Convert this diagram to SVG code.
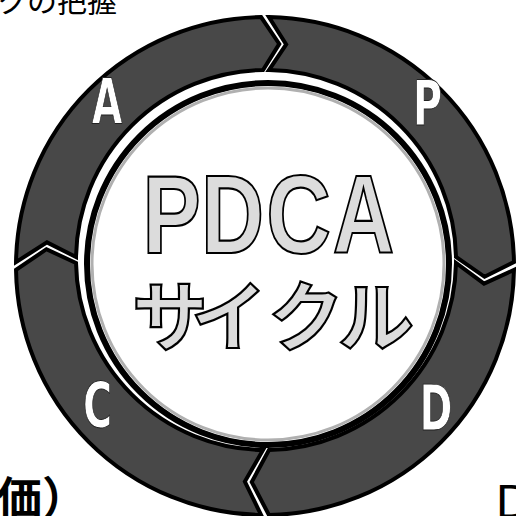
<svg xmlns="http://www.w3.org/2000/svg" width="516" height="516" viewBox="0 0 516 516">
<style>
.seg{fill:#484848;stroke:#000;stroke-width:4;stroke-linejoin:miter}
.lbl{font-family:"DejaVu Sans Condensed","DejaVu Sans",sans-serif;font-weight:bold;font-size:63px;fill:#fff;stroke:#222;stroke-width:0.8;text-anchor:middle}
.big{font-family:"Liberation Sans",Arial,sans-serif;font-weight:bold;font-size:112px;fill:#dcdcdc;stroke:#000;stroke-width:2.2;text-anchor:middle}
.kana{font-family:"Noto Sans CJK JP",sans-serif;font-weight:bold;font-size:76px;fill:#dcdcdc;stroke:#000;stroke-width:2.2;text-anchor:middle}
.side{font-family:"Noto Sans CJK JP",sans-serif;fill:#000}
</style>
<rect width="516" height="516" fill="#fff"/>
<g id="connectors">
<path id="seg-P" class="seg" d="M268.91,17.03 A249,249 0 0 1 513.97,262.09 L484.57,276.78 L455.98,257.02 A190,190 0 0 0 268.98,70.02 L286.16,44.48 Z"/>
<path id="seg-D" class="seg" d="M513.97,269.91 A249,249 0 0 1 268.91,514.97 L251.72,482.07 L268.98,449.98 A190,190 0 0 0 455.98,262.98 L484.03,283.66 Z"/>
<path id="seg-C" class="seg" d="M261.09,514.97 A249,249 0 0 1 16.03,269.91 L46.43,249.22 L76.02,262.98 A190,190 0 0 0 263.02,449.98 L244.85,481.53 Z"/>
<path id="seg-A" class="seg" d="M16.03,262.09 A249,249 0 0 1 261.09,17.03 L279.28,43.93 L263.02,70.02 A190,190 0 0 0 76.02,257.02 L46.98,242.35 Z"/>
</g>
<g id="node-P"><text class="lbl" transform="translate(427.5,125) scale(0.7,1)">P</text></g>
<g id="node-D"><text class="lbl" transform="translate(436,430) scale(0.7,1)">D</text></g>
<g id="node-C"><text class="lbl" transform="translate(97.5,427) scale(0.7,1)">C</text></g>
<g id="node-A"><text class="lbl" transform="translate(107,123) scale(0.7,1)">A</text></g>
<g id="node-center">
<circle cx="268" cy="264" r="181" fill="#fff" stroke="#000" stroke-width="6"/>
<circle cx="268" cy="264" r="176" fill="none" stroke="#b0b0b0" stroke-width="3"/>
<text class="big" transform="translate(171.5,253) scale(0.78,1)">P</text>
<text class="big" transform="translate(232.5,253) scale(0.78,1)">D</text>
<text class="big" transform="translate(298.5,253) scale(0.8,1)">C</text>
<text class="big" transform="translate(363.5,253) scale(0.76,1)">A</text>
<text class="kana" x="170" y="345">サ</text>
<text class="kana" x="229" y="345">イ</text>
<text class="kana" x="306" y="345">ク</text>
<text class="kana" x="376" y="345">ル</text>
</g>
<g id="node-captions">
<text class="side" x="-3" y="12" font-size="30">クの把握</text>
<text class="side" x="-3" y="515" font-size="45" font-weight="bold">価）</text>
<text x="496" y="518" font-family="Liberation Sans,Arial,sans-serif" font-size="48" fill="#000">D</text>
</g>
</svg>
